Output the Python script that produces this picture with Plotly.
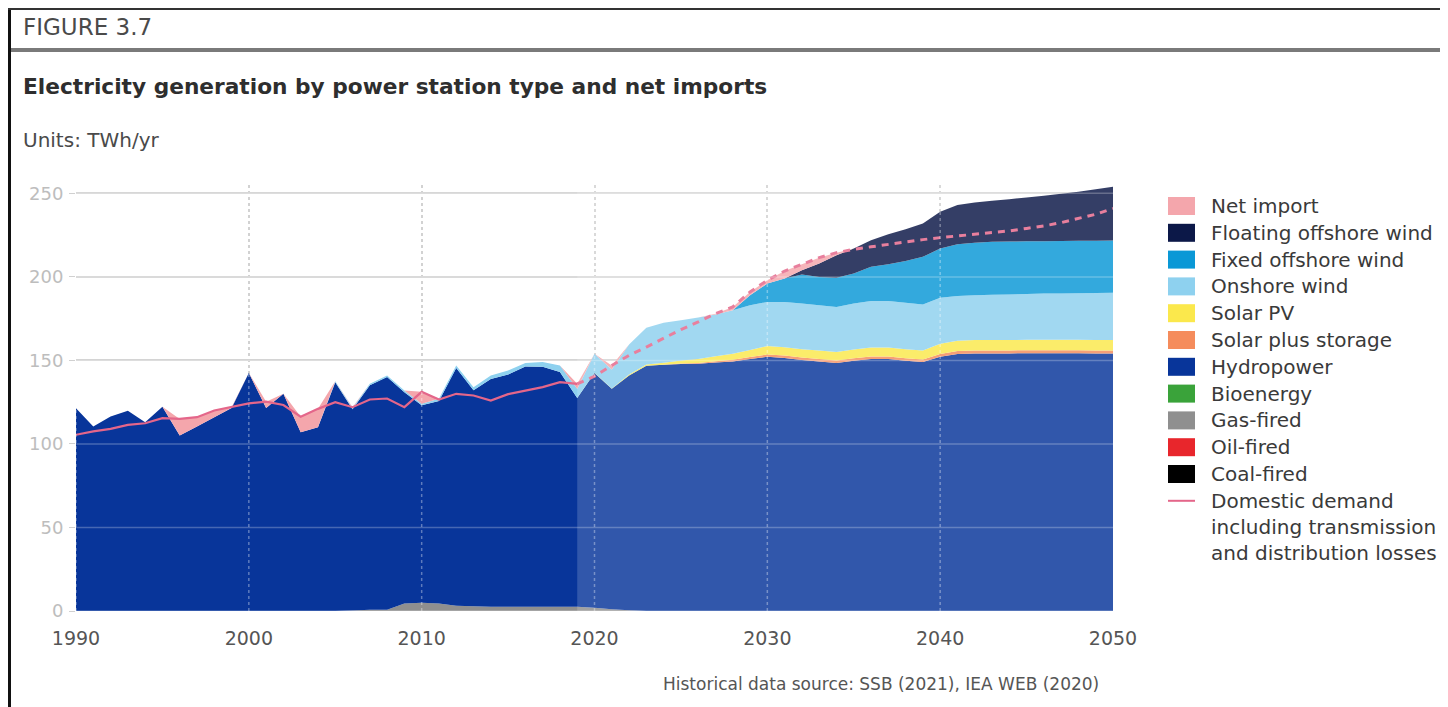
import plotly.graph_objects as go

# ---------------- data (TWh/yr), years 1990..2050 ----------------
YEARS = list(range(1990, 2051))

GAS = [0, 0, 0, 0, 0, 0, 0, 0, 0, 0,
       0, 0, 0, 0, 0, 0, 0.3, 0.7, 0.8, 4.5,
       5.0, 4.5, 3.2, 2.8, 2.6, 2.5, 2.5, 2.5, 2.5, 2.5,
       2.0, 1.0, 0.5, 0, 0, 0, 0, 0, 0, 0,
       0, 0, 0, 0, 0, 0, 0, 0, 0, 0,
       0, 0, 0, 0, 0, 0, 0, 0, 0, 0, 0]

HYDRO = [121.3, 110.5, 116.5, 119.8, 113.0, 122.3, 105.0, 110.5, 116.0, 121.5,
         142.5, 121.5, 130.0, 107.0, 110.0, 137.0, 120.5, 134.4, 139.3, 126.5,
         118.1, 121.2, 142.2, 129.3, 136.2, 139.0, 143.9, 143.7, 140.6, 125.0,
         140.5, 132.0, 140.5, 146.8, 147.4, 147.8, 148.0, 148.8, 149.4, 150.8,
         152.2, 151.4, 150.2, 149.4, 148.5, 149.8, 150.8, 150.8, 149.8, 149.0,
         152.2, 153.8, 154.2, 154.2, 154.2, 154.3, 154.3, 154.3, 154.3, 154.2, 154.2]

SOLAR_STORAGE = [0, 0, 0, 0, 0, 0, 0, 0, 0, 0,
                 0, 0, 0, 0, 0, 0, 0, 0, 0, 0,
                 0, 0, 0, 0, 0, 0, 0, 0, 0, 0,
                 0, 0, 0, 0, 0, 0.3, 0.5, 0.7, 1.0, 1.2,
                 1.4, 1.5, 1.5, 1.5, 1.5, 1.5, 1.5, 1.5, 1.5, 1.5,
                 1.7, 1.8, 1.8, 1.8, 1.8, 1.8, 1.8, 1.8, 1.8, 1.8, 1.8]

SOLAR_PV = [0, 0, 0, 0, 0, 0, 0, 0, 0, 0,
            0, 0, 0, 0, 0, 0, 0, 0, 0, 0,
            0, 0, 0, 0, 0, 0, 0, 0, 0, 0,
            0.1, 0.2, 0.5, 0.8, 1.2, 1.8, 2.4, 3.0, 3.6, 4.2,
            5.0, 5.0, 5.0, 5.0, 5.0, 5.2, 5.4, 5.4, 5.4, 5.4,
            6.0, 6.2, 6.2, 6.2, 6.2, 6.2, 6.2, 6.2, 6.2, 6.2, 6.2]

ONSHORE = [0, 0, 0, 0, 0, 0, 0, 0, 0, 0,
           0, 0, 0, 0, 0, 0.5, 0.7, 0.9, 0.9, 1.0,
           0.9, 1.3, 1.6, 1.9, 2.2, 2.5, 2.1, 2.8, 3.9, 5.5,
           11.4, 11.3, 18.0, 21.9, 23.9, 24.1, 24.8, 25.0, 26.0, 26.8,
           26.4, 27.1, 27.3, 27.1, 27.0, 27.5, 27.8, 27.8, 27.8, 27.6,
           27.6, 26.7, 26.8, 27.1, 27.3, 27.4, 27.7, 27.7, 27.9, 28.1, 28.3]

FIXED_OFFSHORE = [0, 0, 0, 0, 0, 0, 0, 0, 0, 0,
                  0, 0, 0, 0, 0, 0, 0, 0, 0, 0,
                  0, 0, 0, 0, 0, 0, 0, 0, 0, 0,
                  0, 0, 0, 0, 0, 0, 0, 0, 0, 6.0,
                  11.0, 14.0, 17.5, 17.0, 17.5, 18.0, 20.5, 22.0, 25.0, 28.5,
                  29.5, 31.0, 31.5, 31.7, 31.7, 31.6, 31.4, 31.5, 31.4, 31.4, 31.3]

FLOATING_OFFSHORE = [0, 0, 0, 0, 0, 0, 0, 0, 0, 0,
                     0, 0, 0, 0, 0, 0, 0, 0, 0, 0,
                     0, 0, 0, 0, 0, 0, 0, 0, 0, 0,
                     0, 0, 0, 0, 0, 0, 0, 0, 0, 0,
                     0, 0, 2.5, 8.0, 13.5, 15.0, 16.0, 18.0, 19.0, 20.0,
                     22.0, 23.5, 24.0, 24.5, 25.3, 26.2, 27.1, 28.2, 29.4, 30.8, 32.2]

NET_IMPORT = [0, 0, 0, 0, 0, 0, 10.0, 5.5, 4.0, 0.5,
              0, 3.8, 0, 9.3, 11.0, 0, 0.5, 0, 0, 0,
              7.2, 0, 0, 0, 0, 0, 0, 0, 0, 3.0,
              0, 2.5, 0, 0, 0, 0, 0, 0.5, 2.0, 2.0,
              2.0, 4.5, 3.5, 3.5, 1.5, 0, 0, 0, 0, 0,
              0, 0, 0, 0, 0, 0, 0, 0, 0, 0, 0]

DEMAND = [105.5, 107.5, 109.0, 111.4, 112.4, 115.4, 115.0, 116.0, 120.0, 122.0,
          124.3, 125.3, 123.3, 116.3, 121.0, 125.0, 122.0, 126.6, 127.2, 122.0,
          131.2, 126.6, 130.0, 129.0, 126.0, 129.8, 132.0, 134.0, 137.0, 136.0,
          140.5, 147.0, 153.0, 158.0, 163.5, 168.5, 173.0, 178.0, 182.0, 191.0,
          198.0, 203.5, 207.5, 211.5, 214.5, 216.5, 218.0, 219.5, 221.0, 222.3,
          223.5, 224.5, 225.5, 226.5, 227.5, 229.0, 230.5, 232.5, 235.0, 237.5, 241.0]

LAST_HISTORICAL_YEAR = 2019

X_TICKS = [1990, 2000, 2010, 2020, 2030, 2040, 2050]
Y_TICKS = [0, 50, 100, 150, 200, 250]

LEGEND_NAMES = ["Net import", "Floating offshore wind", "Fixed offshore wind",
                "Onshore wind", "Solar PV", "Solar plus storage", "Hydropower",
                "Bioenergy", "Gas-fired", "Oil-fired", "Coal-fired"]
DEMAND_NAME = "Domestic demand<br>including transmission<br>and distribution losses"

COLORS = {
    "Net import": "#F4A6AC",
    "Floating offshore wind": "#0C1848",
    "Fixed offshore wind": "#0A98D6",
    "Onshore wind": "#8ED1EF",
    "Solar PV": "#FBE84C",
    "Solar plus storage": "#F58C5C",
    "Hydropower": "#08359A",
    "Bioenergy": "#3AA33A",
    "Gas-fired": "#8F8F8F",
    "Oil-fired": "#E8262C",
    "Coal-fired": "#000000",
    "Demand": "#E4668A",
}

FONT = "DejaVu Sans"

# ---------------- geometry (screen pixels; the page adds an 8px body margin) ----------------
SCREEN_W, SCREEN_H = 1448, 707
PAGE_MARGIN = 8
W, H = SCREEN_W - PAGE_MARGIN, SCREEN_H - PAGE_MARGIN
PLOT_LEFT, PLOT_RIGHT, PLOT_TOP, PLOT_BOTTOM = 76, 1113, 185, 611
ML = PLOT_LEFT - PAGE_MARGIN
MT = PLOT_TOP - PAGE_MARGIN
MR = SCREEN_W - PLOT_RIGHT
MB = SCREEN_H - PLOT_BOTTOM
PW = PLOT_RIGHT - PLOT_LEFT
PH = PLOT_BOTTOM - PLOT_TOP


def px(x):
    return (x - PLOT_LEFT) / PW


def py(y):
    return (PLOT_BOTTOM - y) / PH


fig = go.Figure()

stack = [("Gas-fired", GAS), ("Hydropower", HYDRO), ("Solar plus storage", SOLAR_STORAGE),
         ("Solar PV", SOLAR_PV), ("Onshore wind", ONSHORE), ("Fixed offshore wind", FIXED_OFFSHORE),
         ("Floating offshore wind", FLOATING_OFFSHORE), ("Net import", NET_IMPORT)]
for name, vals in stack:
    fig.add_trace(go.Scatter(x=YEARS, y=vals, name=name, stackgroup="gen", mode="none",
                             fillcolor=COLORS[name], line=dict(width=0), showlegend=False))

split = YEARS.index(LAST_HISTORICAL_YEAR)
fig.add_trace(go.Scatter(x=YEARS[:split + 1], y=DEMAND[:split + 1], mode="lines",
                         line=dict(color=COLORS["Demand"], width=2.2), showlegend=False,
                         name="Domestic demand"))
fig.add_trace(go.Scatter(x=YEARS[split:], y=DEMAND[split:], mode="lines",
                         line=dict(color=COLORS["Demand"], width=3, dash="7px,6px"), showlegend=False,
                         name="Domestic demand (projection)"))

Y_TOP = 255

# projection period rendered lighter
fig.add_shape(type="rect", xref="x", yref="y", x0=LAST_HISTORICAL_YEAR, x1=X_TICKS[-1], y0=0, y1=Y_TOP,
              fillcolor="rgba(255,255,255,0.17)", line=dict(width=0), layer="above")

# grid lines visible over the areas
for v in Y_TICKS:
    fig.add_shape(type="line", xref="paper", yref="y", x0=0, x1=1.005, y0=v, y1=v,
                  line=dict(color="rgba(255,255,255,0.25)", width=1.5), layer="above")
for yr in X_TICKS[:-1]:
    fig.add_shape(type="line", xref="x", yref="paper", x0=yr, x1=yr, y0=0, y1=1,
                  line=dict(color="rgba(255,255,255,0.35)", width=1.5, dash="dot"), layer="above")

# ---------------- frame & header ----------------
fig.add_shape(type="line", xref="paper", yref="paper", x0=px(9.5), x1=px(9.5), y0=py(9), y1=py(SCREEN_H),
              line=dict(color="#111111", width=3))
fig.add_shape(type="line", xref="paper", yref="paper", x0=px(8), x1=px(SCREEN_W), y0=py(9), y1=py(9),
              line=dict(color="#333333", width=2))
fig.add_shape(type="line", xref="paper", yref="paper", x0=px(11), x1=px(SCREEN_W), y0=py(50), y1=py(50),
              line=dict(color="#7a7a7a", width=4))

ann = []
ann.append(dict(text="FIGURE 3.7", x=px(21), y=py(27), xanchor="left", yanchor="middle",
                font=dict(family=FONT, size=23, color="#4a4a4a")))
ann.append(dict(text="<b>Electricity generation by power station type and net imports</b>",
                x=px(21), y=py(86), xanchor="left", yanchor="middle",
                font=dict(family=FONT, size=21.7, color="#2e2e2e")))
ann.append(dict(text="Units: TWh/yr", x=px(21), y=py(140), xanchor="left", yanchor="middle",
                font=dict(family=FONT, size=20, color="#4a4a4a")))
ann.append(dict(text="Historical data source: SSB (2021), IEA WEB (2020)", x=px(1101), y=py(684),
                xanchor="right", yanchor="middle",
                font=dict(family=FONT, size=17, color="#555555")))

# ---------------- custom legend ----------------
LEG_X0, LEG_X1, LEG_TEXT_X = 1168, 1195, 1209
LEG_Y0, LEG_STEP, SW_H = 206, 26.8, 18
for i, name in enumerate(LEGEND_NAMES):
    yc = LEG_Y0 + i * LEG_STEP
    fig.add_shape(type="rect", xref="paper", yref="paper", x0=px(LEG_X0), x1=px(LEG_X1),
                  y0=py(yc + SW_H / 2), y1=py(yc - SW_H / 2), fillcolor=COLORS[name],
                  line=dict(width=0))
    ann.append(dict(text=name, x=px(LEG_TEXT_X), y=py(yc), xanchor="left", yanchor="middle",
                    font=dict(family=FONT, size=20, color="#3a3a3a")))
yc = LEG_Y0 + len(LEGEND_NAMES) * LEG_STEP
fig.add_shape(type="line", xref="paper", yref="paper", x0=px(LEG_X0), x1=px(LEG_X1),
              y0=py(yc), y1=py(yc), line=dict(color=COLORS["Demand"], width=2))
ann.append(dict(text=DEMAND_NAME, x=px(LEG_TEXT_X), y=py(yc - 13.5), xanchor="left", yanchor="top",
                align="left", font=dict(family=FONT, size=20, color="#3a3a3a")))

for a in ann:
    a.update(xref="paper", yref="paper", showarrow=False)

fig.update_layout(
    width=W, height=H,
    margin=dict(l=ML, r=MR, t=MT, b=MB, pad=0),
    paper_bgcolor="white", plot_bgcolor="white",
    showlegend=False,
    annotations=ann,
    font=dict(family=FONT),
    xaxis=dict(range=[X_TICKS[0], X_TICKS[-1]], tickvals=X_TICKS, ticks="",
               tickfont=dict(size=19, color="#555555"), showgrid=True, gridcolor="#d2d2d2",
               gridwidth=1.5, griddash="dot", zeroline=False, showline=False,
               ticklabelstandoff=14),
    yaxis=dict(range=[0, Y_TOP], tickvals=Y_TICKS, ticks="outside", ticklen=6, tickcolor="#d0d0d0",
               tickfont=dict(size=18, color="#bdbdbd"), showgrid=True, gridcolor="#d2d2d2",
               gridwidth=1.5, zeroline=False, showline=False, ticklabelstandoff=2),
)

fig.write_html("out.html")
